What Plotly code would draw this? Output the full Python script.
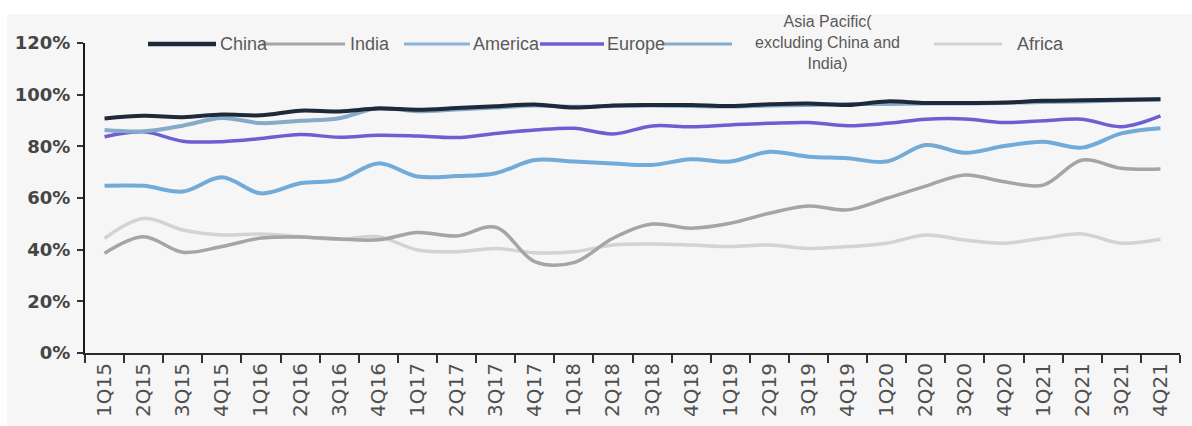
import plotly.graph_objects as go

quarters = ["1Q15", "2Q15", "3Q15", "4Q15", "1Q16", "2Q16", "3Q16", "4Q16",
            "1Q17", "2Q17", "3Q17", "4Q17", "1Q18", "2Q18", "3Q18", "4Q18",
            "1Q19", "2Q19", "3Q19", "4Q19", "1Q20", "2Q20", "3Q20", "4Q20",
            "1Q21", "2Q21", "3Q21", "4Q21"]

china = [90.8, 91.8, 91.3, 92.3, 92.0, 93.8, 93.5, 94.6, 94.2, 94.8, 95.5, 96.2, 95.0, 95.8,
         96.0, 96.0, 95.6, 96.3, 96.6, 96.0, 97.4, 96.8, 96.8, 97.0, 97.6, 97.8, 98.0, 98.2]
asia_pacific = [86.3, 85.8, 88.0, 91.0, 89.0, 89.9, 90.9, 94.8, 93.6, 94.3, 95.0, 95.8, 95.3, 95.6,
                95.8, 95.6, 95.4, 95.8, 96.0, 96.4, 96.4, 96.6, 96.6, 96.8, 97.2, 97.4, 97.8, 98.2]
europe = [83.7, 85.6, 82.0, 81.8, 83.0, 84.6, 83.5, 84.3, 84.0, 83.4, 85.0, 86.3, 87.0, 84.8,
          87.9, 87.6, 88.3, 88.9, 89.2, 88.0, 88.9, 90.5, 90.6, 89.2, 89.9, 90.5, 87.6, 91.8]
america = [64.7, 64.7, 62.5, 68.0, 61.8, 65.7, 67.0, 73.4, 68.3, 68.5, 69.6, 74.7, 74.1, 73.4,
           72.8, 75.0, 74.1, 77.9, 76.0, 75.4, 74.1, 80.5, 77.5, 80.1, 81.8, 79.5, 85.0, 87.0]
india = [38.6, 45.0, 39.0, 41.2, 44.5, 44.9, 44.1, 43.8, 46.6, 45.3, 48.7, 35.4, 35.0, 44.4,
         49.9, 48.3, 50.2, 54.1, 56.9, 55.4, 59.9, 64.6, 68.9, 66.3, 65.0, 74.7, 71.5, 71.2]
africa = [44.4, 52.1, 47.6, 45.7, 46.1, 45.0, 44.0, 45.0, 39.9, 39.2, 40.5, 38.8, 39.2, 41.8,
          42.2, 41.8, 41.2, 41.8, 40.5, 41.2, 42.5, 45.7, 43.7, 42.5, 44.4, 46.1, 42.5, 44.0]

y_ticks = [0, 20, 40, 60, 80, 100, 120]
y_tick_labels = ["0%", "20%", "40%", "60%", "80%", "100%", "120%"]

W, H = 1192, 426
ML, MR, MT, MB = 85, 12, 43, 73
PW = W - ML - MR
PH = H - MT - MB


def px(x):
    return (x - ML) / PW


def py(y):
    return (H - MB - y) / PH


series = [
    ("Africa", africa, "#d3d3d6", 3.5),
    ("India", india, "#a4a4a9", 3.5),
    ("America", america, "#72aad8", 4),
    ("Europe", europe, "#6e5ed2", 3.5),
    ("Asia Pacific(excluding China and India)", asia_pacific, "#85abc8", 4),
    ("China", china, "#1e2a3a", 4),
]

fig = go.Figure()
for name, vals, color, w in series:
    fig.add_trace(go.Scatter(
        x=quarters, y=vals, mode="lines", name=name,
        line=dict(color=color, width=w, shape="spline", smoothing=1),
        showlegend=False, hoverinfo="x+y+name",
    ))

shapes = [dict(type="rect", xref="paper", yref="paper",
               x0=px(7), x1=px(W + 5), y0=py(H + 5), y1=py(14),
               fillcolor="#f6f6f6", line=dict(width=0), layer="below")]

# manual legend (line glyph px start, end, colour, width, label x)
legend_items = [
    ("China", "#1e2a3a", 148, 216, 4.5, 218),
    ("India", "#a4a4a9", 262, 345, 3, 348),
    ("America", "#8cb3d6", 404, 470, 3, 471),
    ("Europe", "#6e5ed2", 540, 604, 3.5, 605),
    ("Asia Pacific(<br>excluding China and<br>India)", "#85abc8", 662, 732, 3, None),
    ("Africa", "#d3d3d6", 934, 1002, 3, 1015),
]
ly = 44
annotations = []
for label, color, x0, x1, w, tx in legend_items:
    shapes.append(dict(type="line", xref="paper", yref="paper",
                       x0=px(x0), x1=px(x1), y0=py(ly), y1=py(ly),
                       line=dict(color=color, width=w)))
    if tx is not None:
        annotations.append(dict(xref="paper", yref="paper", x=px(tx), y=py(ly),
                                text=label, showarrow=False, xanchor="left", yanchor="middle",
                                font=dict(family="Liberation Sans", size=18, color="#5a5a5a")))
    else:
        annotations.append(dict(xref="paper", yref="paper", x=px(827), y=py(ly - 2),
                                text=label, showarrow=False, xanchor="center", yanchor="middle",
                                align="center",
                                font=dict(family="Liberation Sans", size=16, color="#5a5a5a")))

fig.update_layout(
    width=W, height=H,
    margin=dict(l=ML, r=MR, t=MT, b=MB, pad=0, autoexpand=False),
    paper_bgcolor="white", plot_bgcolor="rgba(0,0,0,0)",
    shapes=shapes, annotations=annotations,
    showlegend=False,
    xaxis=dict(type="category", range=[-0.5, len(quarters) - 0.5], automargin=False,
               tickson="boundaries", ticks="outside", ticklen=8, tickwidth=2, tickcolor="#333",
               showline=True, linewidth=2, linecolor="#2a2a2a", showgrid=False, zeroline=False,
               tickangle=-90, tickfont=dict(family="DejaVu Sans", size=20, color="#505050")),
    yaxis=dict(range=[0, 120], tickmode="array", tickvals=y_ticks, ticktext=y_tick_labels,
               automargin=False,
               ticks="outside", ticklen=6, tickwidth=2, tickcolor="#333", ticklabelstandoff=3,
               showline=True, linewidth=2, linecolor="#1a1a1a", showgrid=False, zeroline=False,
               tickfont=dict(family="DejaVu Sans", size=18, color="#454545", weight="bold")),
)

fig.write_html("out.html")
